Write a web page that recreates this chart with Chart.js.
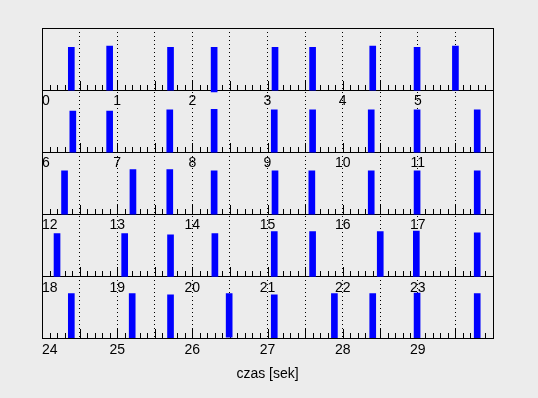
<!DOCTYPE html>
<html>
<head>
<meta charset="utf-8">
<script src="https://cdn.jsdelivr.net/npm/chart.js@4/dist/chart.umd.min.js"></script>
<style>
body{margin:0;background:#ececec}
#kontener{width:538px;height:398px;position:relative}
</style>
</head>
<body>
<div id="kontener"><canvas id="wykres"></canvas></div>
<script>
// momenty impulsow [s], wiersz = 6 sekund
let czasy = [
  0.39, 0.90, 1.71, 2.29, 3.10, 3.60, 4.40, 4.99, 5.50,
  6.41, 6.90, 7.70, 8.29, 9.09, 9.60, 10.38, 10.99, 11.79,
  12.30, 13.21, 13.70, 14.29, 15.10, 15.59, 16.38, 16.99, 17.79,
  18.20, 19.10, 19.71, 20.30, 21.09, 21.60, 22.50, 22.98, 23.79,
  24.39, 25.20, 25.71, 26.49, 27.09, 27.89, 28.40, 28.99, 29.79
]
// gorna krawedz impulsu (wzgledem linii wiersza)
let gorne = [
  0.69, 0.71, 0.69, 0.69, 0.69, 0.69, 0.71, 0.69, 0.71,
  0.66, 0.66, 0.68, 0.69, 0.68, 0.68, 0.68, 0.68, 0.68,
  0.70, 0.72, 0.72, 0.70, 0.70, 0.70, 0.70, 0.70, 0.70,
  0.69, 0.69, 0.67, 0.69, 0.72, 0.72, 0.72, 0.73, 0.70,
  0.72, 0.72, 0.70, 0.72, 0.70, 0.72, 0.72, 0.73, 0.72
]
// dolna krawedz impulsu
let dolne = [
  0, 0, 0, -0.03, 0, 0, 0, 0, 0,
  0, 0, 0, 0, 0, 0, 0, 0, 0,
  0, 0, 0, 0, 0, 0, 0, 0, 0,
  0, 0, 0, 0, 0, 0, 0, 0, 0,
  -0.02, -0.03, 0, 0.02, -0.02, -0.03, 0, 0, -0.03
]
let wiersze = [0, 1, 2, 3, 4]
let sekundNaWiersz = 6
let tytulOsi = 'czas [sek]'

Chart.defaults.font.family = '"Liberation Sans", Arial, sans-serif'
Chart.defaults.font.size = 14
Chart.defaults.color = '#000'

let zbiory = wiersze.map(r => {
  let punkty = []
  czasy.forEach((t, i) => {
    if (Math.floor(t / sekundNaWiersz) === r) {
      let baza = 4 - r
      punkty.push({x: t, y: [baza + dolne[i], baza + gorne[i]]})
    }
  })
  return {
    data: punkty,
    xAxisID: 'x' + r,
    yAxisID: 'y',
    backgroundColor: '#0000ff',
    borderWidth: 0,
    barThickness: 6,
    grouped: false
  }
})

let osie = {
  y: {
    type: 'linear', min: 0, max: 5,
    ticks: {display: false, stepSize: 1},
    grid: {color: '#000', drawTicks: false},
    border: {display: false}
  }
}
wiersze.forEach(r => {
  let od = r * sekundNaWiersz
  let os = {
    type: 'linear',
    min: od, max: od + sekundNaWiersz,
    offset: false,
    ticks: {
      autoSkip: false, maxRotation: 0, align: 'inner', padding: 3, color: '#000',
      stepSize: 1,
      callback: v => (Number.isInteger(v) && v < od + sekundNaWiersz) ? v : ''
    },
    grid: {drawOnChartArea: false, drawTicks: false, offset: false},
    border: {display: false}
  }
  if (r < 4) {
    os.position = {y: 4 - r}
  } else {
    // dolna os: kropkowane linie co 0.5 s przez caly wykres
    os.position = 'bottom'
    os.ticks.stepSize = 0.5
    os.grid = {color: '#000', drawTicks: false, offset: false, lineWidth: 1}
    os.border = {display: false, dash: [1, 3]}
    os.title = {display: true, text: tytulOsi, color: '#000', padding: {top: 5, bottom: 4}}
  }
  osie['x' + r] = os
})

// drobne kreski co 0.1 s na dole kazdego wiersza + ramka
let kreski = {
  id: 'kreski',
  beforeDatasetsDraw(chart) {
    let ctx = chart.ctx
    let sy = chart.scales.y
    ctx.save()
    ctx.strokeStyle = '#000'
    ctx.lineWidth = 1
    ctx.beginPath()
    wiersze.forEach(r => {
      let sx = chart.scales['x' + r]
      let yb = Math.round(sy.getPixelForValue(4 - r))
      for (let k = 1; k < sekundNaWiersz * 10; k++) {
        let px = Math.round(sx.getPixelForValue(r * sekundNaWiersz + k / 10)) + 0.5
        let dl = k % 5 === 0 ? 9 : 5
        ctx.moveTo(px, yb)
        ctx.lineTo(px, yb - dl)
      }
    })
    ctx.stroke()
    ctx.restore()
  },
  afterDraw(chart) {
    let a = chart.chartArea
    let ctx = chart.ctx
    ctx.save()
    ctx.strokeStyle = '#000'
    ctx.lineWidth = 1
    ctx.strokeRect(Math.round(a.left) + 0.5, Math.round(a.top) + 0.5, Math.round(a.right - a.left), Math.round(a.bottom - a.top))
    ctx.restore()
  }
}

let wykres = new Chart(document.getElementById('wykres'), {
  type: 'bar',
  data: {datasets: zbiory},
  options: {
    responsive: true,
    maintainAspectRatio: false,
    animation: false,
    layout: {padding: {left: 42, right: 45, top: 28, bottom: 11}},
    plugins: {
      legend: {display: false},
      tooltip: {enabled: false}
    },
    scales: osie
  },
  plugins: [kreski]
})
</script>
</body>
</html>
